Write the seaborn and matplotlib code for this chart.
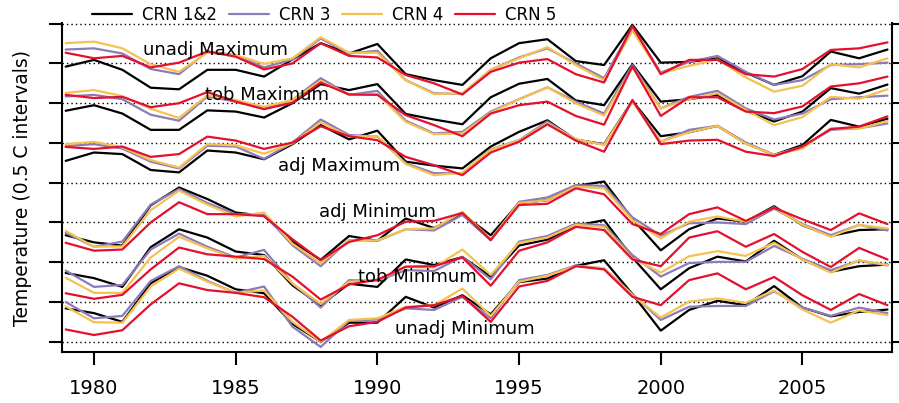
import matplotlib
matplotlib.use("Agg")
import matplotlib.pyplot as plt
import pandas as pd
import seaborn as sns

years = list(range(1979, 2009))
crn_classes = ["CRN 1&2", "CRN 3", "CRN 4", "CRN 5"]
groups = ["unadj Maximum", "tob Maximum", "adj Maximum",
          "adj Minimum", "tob Minimum", "unadj Minimum"]

unadj_max_crn12 = [6.92, 7.09, 6.84, 6.39, 6.35, 6.84, 6.84, 6.67, 7.10, 7.51, 7.25, 7.49, 6.73, 6.58, 6.46, 7.13, 7.51, 7.61, 7.06, 6.96, 7.97, 7.02, 7.04, 7.13, 6.77, 6.46, 6.68, 7.30, 7.13, 7.35]
unadj_max_crn3 = [7.35, 7.38, 7.25, 6.86, 6.73, 7.30, 7.21, 6.90, 7.10, 7.63, 7.25, 7.32, 6.58, 6.25, 6.23, 6.84, 7.15, 7.38, 7.00, 6.63, 7.92, 6.77, 7.04, 7.19, 6.79, 6.46, 6.58, 6.96, 6.98, 7.02]
unadj_max_crn4 = [7.51, 7.55, 7.38, 6.98, 6.79, 7.27, 7.21, 6.99, 7.13, 7.66, 7.27, 7.27, 6.58, 6.23, 6.25, 6.84, 7.13, 7.41, 6.96, 6.58, 7.82, 6.75, 6.94, 7.10, 6.65, 6.29, 6.44, 6.98, 6.90, 7.13]
unadj_max_crn5 = [7.27, 7.13, 7.19, 6.90, 7.02, 7.30, 7.17, 6.85, 7.00, 7.51, 7.19, 7.15, 6.71, 6.50, 6.22, 6.79, 7.02, 7.11, 6.73, 6.52, 7.94, 6.73, 7.09, 7.09, 6.73, 6.67, 6.86, 7.34, 7.38, 7.53]

tob_max_crn12 = [5.81, 5.95, 5.74, 5.33, 5.33, 5.82, 5.79, 5.64, 6.00, 6.48, 6.33, 6.48, 5.73, 5.59, 5.47, 6.15, 6.49, 6.61, 6.07, 5.95, 6.98, 6.04, 6.10, 6.21, 5.81, 5.54, 5.79, 6.38, 6.24, 6.47]
tob_max_crn3 = [6.17, 6.21, 6.10, 5.71, 5.56, 6.17, 6.04, 5.86, 6.08, 6.63, 6.21, 6.31, 5.56, 5.24, 5.28, 5.79, 6.10, 6.40, 6.04, 5.74, 6.96, 5.87, 6.16, 6.31, 5.87, 5.59, 5.74, 6.10, 6.15, 6.19]
tob_max_crn4 = [6.26, 6.33, 6.18, 5.86, 5.63, 6.20, 6.08, 5.91, 6.08, 6.56, 6.21, 6.23, 5.53, 5.22, 5.24, 5.76, 6.10, 6.40, 6.00, 5.69, 6.89, 5.87, 6.10, 6.25, 5.83, 5.45, 5.65, 6.16, 6.11, 6.35]
tob_max_crn5 = [6.21, 6.13, 6.16, 5.90, 6.00, 6.28, 6.04, 5.85, 6.01, 6.52, 6.22, 6.21, 5.70, 5.45, 5.17, 5.74, 5.95, 6.04, 5.68, 5.46, 6.93, 5.68, 6.15, 6.15, 5.79, 5.75, 5.92, 6.42, 6.50, 6.67]

adj_max_crn12 = [4.55, 4.76, 4.72, 4.32, 4.26, 4.81, 4.76, 4.59, 4.97, 5.45, 5.09, 5.31, 4.53, 4.43, 4.36, 4.91, 5.28, 5.57, 5.08, 4.97, 6.06, 5.17, 5.27, 5.43, 4.99, 4.70, 4.95, 5.58, 5.41, 5.61]
adj_max_crn3 = [4.92, 4.97, 4.86, 4.53, 4.36, 4.93, 4.91, 4.60, 5.01, 5.59, 5.20, 5.16, 4.49, 4.24, 4.24, 4.84, 5.07, 5.54, 5.09, 4.96, 6.06, 5.03, 5.33, 5.43, 5.01, 4.70, 4.91, 5.33, 5.37, 5.49]
adj_max_crn4 = [4.97, 5.03, 4.89, 4.57, 4.38, 4.97, 4.94, 4.73, 4.99, 5.52, 5.17, 5.17, 4.47, 4.19, 4.25, 4.83, 5.06, 5.50, 5.09, 4.95, 6.04, 5.03, 5.27, 5.43, 4.98, 4.70, 4.86, 5.37, 5.36, 5.55]
adj_max_crn5 = [4.90, 4.85, 4.91, 4.65, 4.72, 5.16, 5.06, 4.85, 5.01, 5.42, 5.17, 5.07, 4.65, 4.44, 4.19, 4.76, 5.03, 5.47, 5.06, 4.78, 6.08, 4.97, 5.06, 5.08, 4.78, 4.67, 4.91, 5.35, 5.41, 5.67]

adj_min_crn12 = [2.68, 2.50, 2.42, 3.43, 3.88, 3.59, 3.25, 3.17, 2.52, 2.06, 2.66, 2.54, 3.10, 2.86, 3.21, 2.68, 3.49, 3.56, 3.92, 4.03, 3.09, 2.30, 2.83, 3.10, 3.02, 3.41, 2.93, 2.66, 2.81, 2.83]
adj_min_crn3 = [2.74, 2.39, 2.52, 3.45, 3.84, 3.49, 3.21, 3.21, 2.43, 1.90, 2.56, 2.54, 2.83, 2.80, 3.19, 2.55, 3.52, 3.63, 3.94, 3.92, 3.13, 2.67, 2.98, 3.00, 2.96, 3.35, 2.96, 2.68, 2.94, 2.80]
adj_min_crn4 = [2.79, 2.39, 2.40, 3.31, 3.80, 3.45, 3.15, 3.25, 2.47, 1.97, 2.55, 2.55, 2.83, 2.85, 3.27, 2.58, 3.49, 3.56, 3.90, 3.86, 3.06, 2.60, 3.02, 3.15, 3.02, 3.38, 2.94, 2.64, 2.94, 2.85]
adj_min_crn5 = [2.49, 2.29, 2.32, 3.00, 3.51, 3.21, 3.21, 3.16, 2.58, 2.05, 2.51, 2.68, 3.02, 3.04, 3.24, 2.56, 3.44, 3.47, 3.86, 3.71, 2.96, 2.71, 3.21, 3.38, 3.04, 3.37, 3.08, 2.81, 3.23, 2.96]

tob_min_crn12 = [1.73, 1.60, 1.38, 2.38, 2.83, 2.62, 2.27, 2.18, 1.42, 0.92, 1.46, 1.38, 2.07, 1.93, 2.13, 1.64, 2.42, 2.57, 2.92, 3.06, 2.12, 1.32, 1.85, 2.14, 2.02, 2.54, 2.07, 1.76, 1.90, 1.94]
tob_min_crn3 = [1.79, 1.38, 1.43, 2.32, 2.72, 2.39, 2.12, 2.31, 1.47, 0.86, 1.55, 1.53, 1.80, 1.78, 2.14, 1.57, 2.52, 2.66, 2.97, 2.93, 2.18, 1.64, 1.98, 2.01, 2.01, 2.41, 2.09, 1.80, 2.04, 1.92]
tob_min_crn4 = [1.61, 1.23, 1.23, 2.12, 2.64, 2.35, 2.09, 2.16, 1.47, 0.95, 1.51, 1.54, 1.88, 1.87, 2.32, 1.68, 2.49, 2.62, 2.94, 2.89, 2.10, 1.74, 2.15, 2.28, 2.16, 2.49, 2.07, 1.74, 2.05, 1.93]
tob_min_crn5 = [1.22, 1.08, 1.18, 1.82, 2.37, 2.20, 2.14, 2.08, 1.64, 1.06, 1.44, 1.56, 1.89, 1.90, 2.12, 1.41, 2.29, 2.50, 2.89, 2.81, 2.07, 1.90, 2.62, 2.78, 2.39, 2.71, 2.26, 1.88, 2.36, 2.07]

unadj_min_crn12 = [0.84, 0.72, 0.50, 1.47, 1.88, 1.66, 1.32, 1.22, 0.45, 0.00, 0.48, 0.48, 1.13, 0.86, 1.17, 0.69, 1.50, 1.59, 1.91, 2.05, 1.20, 0.28, 0.80, 1.03, 0.92, 1.40, 0.86, 0.64, 0.75, 0.81]
unadj_min_crn3 = [1.00, 0.59, 0.65, 1.53, 1.90, 1.53, 1.23, 1.39, 0.38, -0.13, 0.53, 0.56, 0.84, 0.80, 1.13, 0.59, 1.55, 1.68, 1.92, 1.84, 1.20, 0.55, 0.88, 0.90, 0.90, 1.27, 0.86, 0.65, 0.86, 0.72]
unadj_min_crn4 = [0.89, 0.49, 0.48, 1.39, 1.84, 1.51, 1.23, 1.29, 0.50, 0.00, 0.55, 0.59, 0.88, 0.92, 1.34, 0.65, 1.51, 1.66, 1.90, 1.85, 1.17, 0.61, 1.01, 1.09, 0.98, 1.29, 0.81, 0.48, 0.79, 0.67]
unadj_min_crn5 = [0.31, 0.17, 0.29, 0.94, 1.47, 1.30, 1.23, 1.12, 0.63, 0.03, 0.39, 0.50, 0.86, 0.92, 1.15, 0.50, 1.39, 1.53, 1.90, 1.82, 1.13, 0.92, 1.55, 1.72, 1.32, 1.63, 1.17, 0.80, 1.20, 0.92]

series = {
    "unadj Maximum": [unadj_max_crn12, unadj_max_crn3, unadj_max_crn4, unadj_max_crn5],
    "tob Maximum": [tob_max_crn12, tob_max_crn3, tob_max_crn4, tob_max_crn5],
    "adj Maximum": [adj_max_crn12, adj_max_crn3, adj_max_crn4, adj_max_crn5],
    "adj Minimum": [adj_min_crn12, adj_min_crn3, adj_min_crn4, adj_min_crn5],
    "tob Minimum": [tob_min_crn12, tob_min_crn3, tob_min_crn4, tob_min_crn5],
    "unadj Minimum": [unadj_min_crn12, unadj_min_crn3, unadj_min_crn4, unadj_min_crn5],
}

rows = []
for g in groups:
    for crn, vals in zip(crn_classes, series[g]):
        for yr, v in zip(years, vals):
            rows.append({"year": yr, "value": v, "crn": crn, "group": g})
df = pd.DataFrame(rows)

palette = {"CRN 1&2": "#000000", "CRN 3": "#8c7bb8",
           "CRN 4": "#f5c150", "CRN 5": "#e3102f"}

sns.set_style("ticks")
plt.rcParams["font.family"] = ["DejaVu Sans"]
plt.rcParams["text.color"] = "black"
plt.rcParams["axes.labelcolor"] = "black"
plt.rcParams["xtick.color"] = "black"
plt.rcParams["ytick.color"] = "black"

fig = plt.figure(figsize=(8.99, 4.03), dpi=100)
ax = fig.add_axes([62 / 899, 1 - 351.7 / 403, 830 / 899, 328.4 / 403])

sns.lineplot(data=df, x="year", y="value", hue="crn", hue_order=crn_classes,
             units="group", estimator=None, palette=palette, linewidth=1.6,
             ax=ax)

ax.set_xlim(1978.87, 2008.16)
ax.set_ylim(-0.25, 8.01)
ax.set_yticks(range(0, 9))
ax.set_xticks([1980, 1985, 1990, 1995, 2000, 2005])
ax.yaxis.grid(True, color="black", linestyle=(0, (1, 2.2)), linewidth=1.0)
ax.set_axisbelow(True)

ax.tick_params(axis="y", left=True, right=True, labelleft=False,
               direction="out", length=9.5, width=1.5, color="black")
ax.tick_params(axis="x", direction="out", length=9.5, width=1.5,
               labelsize=14, pad=10, color="black", labelcolor="black")
for side in ["left", "right", "bottom"]:
    ax.spines[side].set_linewidth(1.5)
    ax.spines[side].set_color("black")
ax.spines["top"].set_visible(False)

ax.set_xlabel("")
ax.set_ylabel("Temperature (0.5 C intervals)", fontsize=13.5, labelpad=12,
              color="black")

# group labels
label_pos = {
    "unadj Maximum": (1981.73, 7.22),
    "tob Maximum": (1983.91, 6.08),
    "adj Maximum": (1986.49, 4.29),
    "adj Minimum": (1987.94, 3.13),
    "tob Minimum": (1989.31, 1.51),
    "unadj Minimum": (1990.62, 0.19),
}
for g in groups:
    x, y = label_pos[g]
    ax.text(x, y, g, fontsize=13, ha="left", va="baseline", color="black")

handles, labels = ax.get_legend_handles_labels()
leg = ax.legend(handles, labels, ncol=4, frameon=False, fontsize=12,
                loc="center left", bbox_to_anchor=(92 / 899, 1 - 15 / 403),
                bbox_transform=fig.transFigure, borderpad=0, borderaxespad=0,
                handlelength=2.4, handletextpad=0.6, columnspacing=0.7)
for t in leg.get_texts():
    t.set_color("black")

fig.savefig("out.png", dpi=100)
